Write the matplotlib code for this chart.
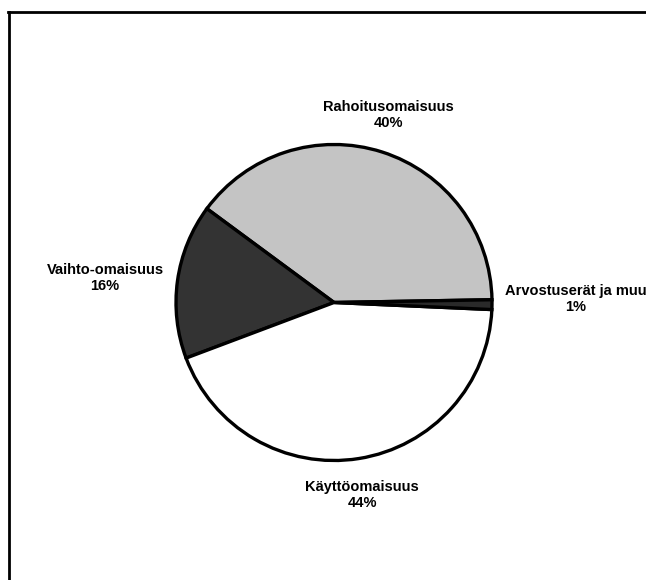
import matplotlib.pyplot as plt
from matplotlib.lines import Line2D

labels = ['Rahoitusomaisuus', 'Vaihto-omaisuus', 'Käyttöomaisuus', 'Arvostuserät ja muu']
shares = [40, 16, 44, 1]
colors = ['#c4c4c4', '#333333', '#ffffff', '#2a2a2a']

# label centres in pixel coords (x, y from top)
label_pos = [(388, 115), (105, 278), (362, 495), (576, 299)]

W, H = 646, 580


def main():
    plt.rcParams['font.family'] = ['Liberation Sans', 'DejaVu Sans']
    fig = plt.figure(figsize=(W / 100, H / 100), dpi=100)
    ax = fig.add_axes([0, 0, 1, 1])

    ax.pie(shares, colors=colors, startangle=1, counterclock=True,
           center=(334, H - 302.5), radius=158, frame=True,
           wedgeprops=dict(edgecolor='black', linewidth=2.4))

    for lab, val, (x, y) in zip(labels, shares, label_pos):
        ax.text(x, H - y, f'{lab}\n{val}%', ha='center', va='center',
                fontsize=10.5, fontweight='bold', linespacing=1.1)

    ax.set_xlim(0, W)
    ax.set_ylim(0, H)
    ax.axis('off')

    # frame lines along the top and left edges
    fig.add_artist(Line2D([8 / W, 1], [1 - 12 / H, 1 - 12 / H], color='black', linewidth=2))
    fig.add_artist(Line2D([8.5 / W, 8.5 / W], [0, 1 - 12 / H], color='black', linewidth=2))

    fig.savefig('out.png', dpi=100)


if __name__ == '__main__':
    main()
